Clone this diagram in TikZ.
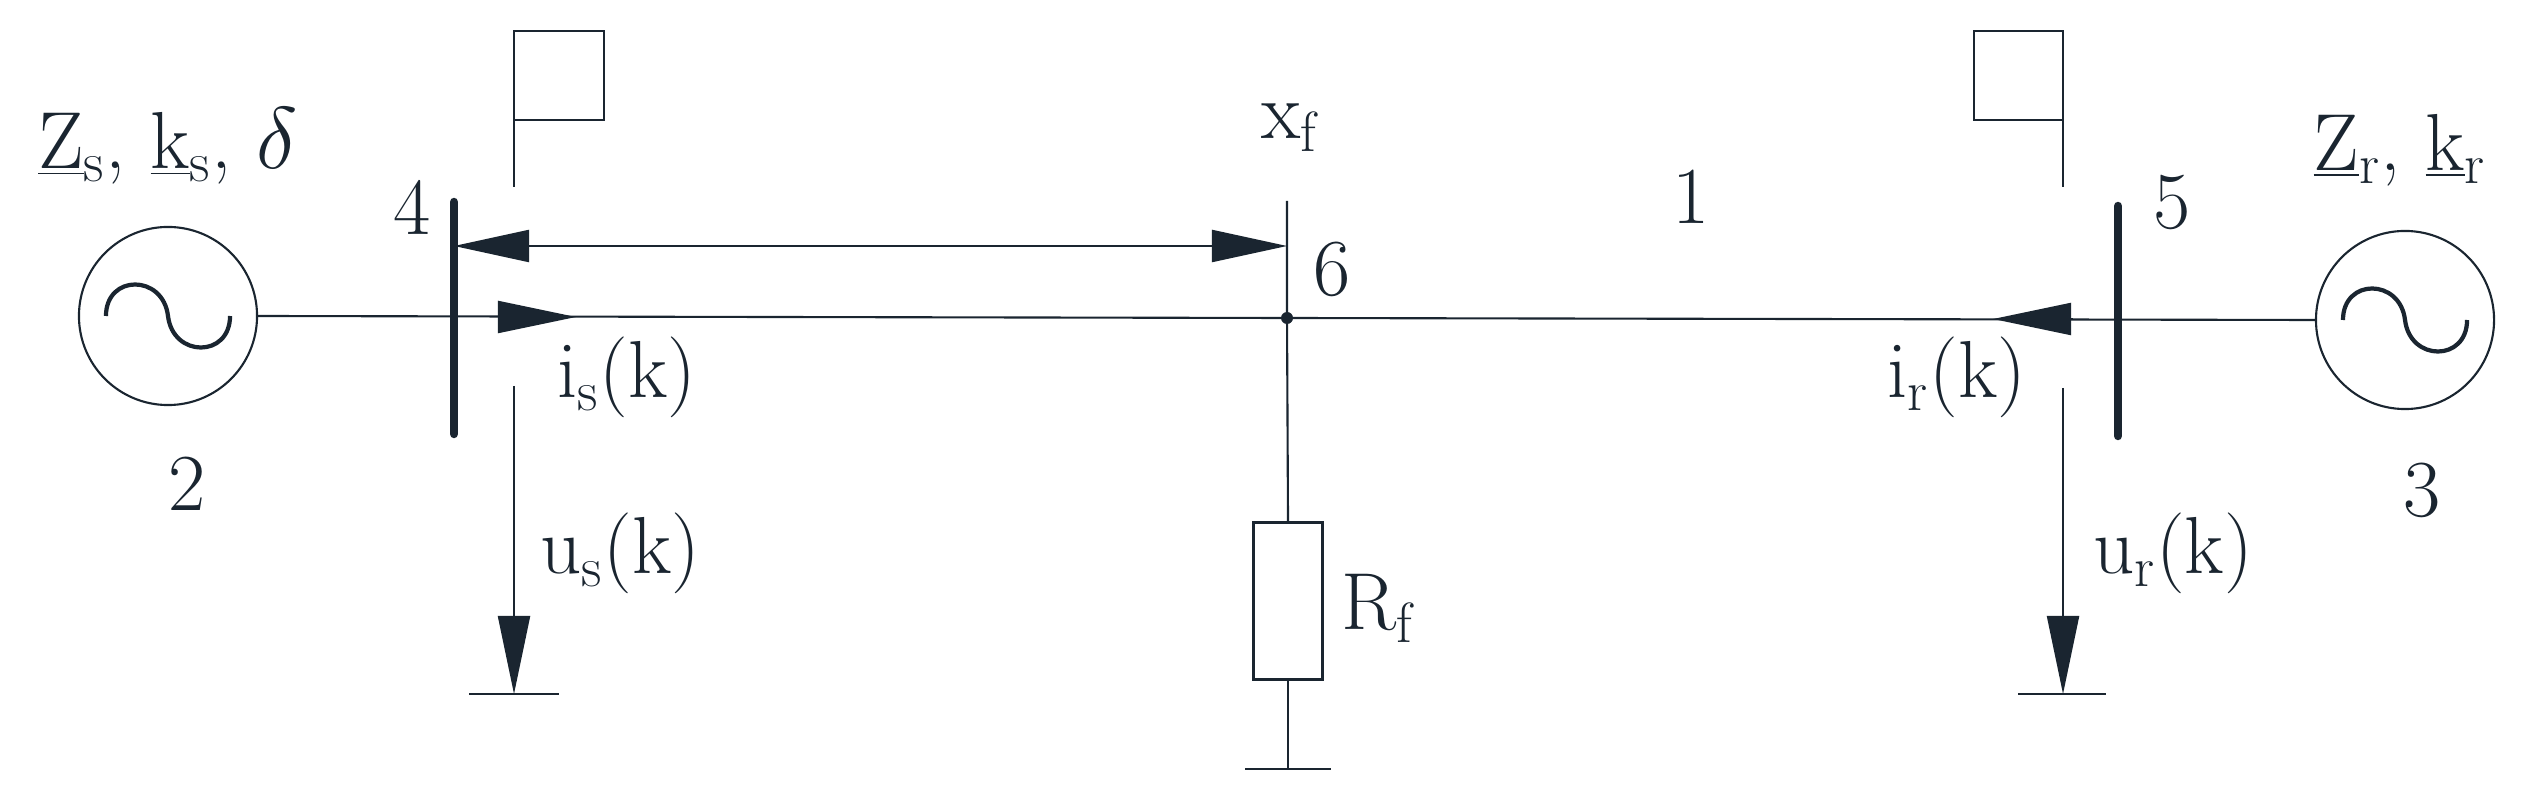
\documentclass[tikz,border=0pt]{standalone}
\usetikzlibrary{arrows.meta}
\definecolor{ink}{HTML}{1A2530}
\begin{document}
\begin{tikzpicture}[x=0.01cm,y=-0.01cm,
  line width=0.6pt, draw=ink, text=ink,
  lbl/.style={inner sep=0pt, font=\fontsize{23}{27}\selectfont},
  bigtip/.style={-{Triangle[length=0.78cm,width=0.32cm]}},
  bus/.style={line width=2.4pt, line cap=round},
  gen/.style={circle, draw, minimum size=1.78cm, inner sep=0pt}]
\useasboundingbox (0,0) rectangle (2531,810);
% generators
\node[gen] (g2) at (168,316) {};
\node[gen] (g3) at (2405,320) {};
\foreach \g in {g2,g3}{
  \draw[line width=1.2pt] ([xshift=-0.62cm]\g.center) .. controls ([xshift=-0.62cm,yshift=0.42cm]\g.center) and ([xshift=-0.05cm,yshift=0.42cm]\g.center) .. (\g.center)
     .. controls ([xshift=0.05cm,yshift=-0.42cm]\g.center) and ([xshift=0.62cm,yshift=-0.42cm]\g.center) .. ([xshift=0.62cm]\g.center);
}
% coordinates
\coordinate (j) at (1287,318);
\coordinate (b4t) at (454,202); \coordinate (b4b) at (454,434);
\coordinate (b5t) at (2118,206); \coordinate (b5b) at (2118,436);
% main line
\draw (g2.east) -- (j) -- (g3.west);
\fill[ink] (j) circle (6);
% buses
\draw[bus] (b4t) -- (b4b);
\draw[bus] (b5t) -- (b5b);
% double arrow
\coordinate (da1) at (454,246); \coordinate (da2) at (1287,246);
\draw[{Triangle[length=0.75cm,width=0.32cm]}-{Triangle[length=0.75cm,width=0.32cm]}] (da1) -- (da2);
% current arrows
\coordinate (is1) at (498,317); \coordinate (is2) at (576,317);
\draw[bigtip] (is1) -- (is2);
\coordinate (ir1) at (2073,319); \coordinate (ir2) at (1993,319);
\draw[bigtip] (ir1) -- (ir2);
% flags
\coordinate (f4a) at (514,187); \coordinate (f4b) at (514,31);
\draw (f4a) -- (f4b) -- (604,31) -- (604,120) -- (514,120);
\coordinate (f5a) at (2063,187); \coordinate (f5b) at (2063,31);
\draw (f5a) -- (f5b) -- (1974,31) -- (1974,120) -- (2063,120);
% voltage arrows and grounds
\coordinate (us1) at (514,386); \coordinate (us2) at (514,694);
\draw[bigtip] (us1) -- (us2);
\draw (469,694) -- (559,694);
\coordinate (ur1) at (2063,388); \coordinate (ur2) at (2063,694);
\draw[bigtip] (ur1) -- (ur2);
\draw (2018,694) -- (2106,694);
% fault branch
\coordinate (xf) at (1287,201);
\node[draw, minimum width=0.69cm, minimum height=1.57cm, inner sep=0pt] (rf) at (1288,601) {};
\coordinate (gf) at (1288,769);
\draw (xf) -- (j) -- (rf.north);
\draw (rf.south) -- (gf);
\draw (1245,769) -- (1331,769);
% labels
\node[lbl] (l2) at (187,484) {2};
\node[lbl] (l3) at (2422,490) {3};
\node[lbl] (l4) at (412,207) {4};
\node[lbl] (l5) at (2172,202) {5};
\node[lbl] (l6) at (1332,269) {6};
\node[lbl] (l1) at (1691,197) {1};
\node[lbl] (lxf) at (1290,128) {x\textsubscript{f}};
\node[lbl] (lrf) at (1378,608) {R\textsubscript{f}};
\node[lbl] (lis) at (627,377) {i\textsubscript{s}(k)};
\node[lbl] (lir) at (1957,377) {i\textsubscript{r}(k)};
\node[lbl] (lus) at (620,553) {u\textsubscript{s}(k)};
\node[lbl] (lur) at (2173,553) {u\textsubscript{r}(k)};
\node[lbl] (lzs) at (168,146) {\underline{Z}\textsubscript{s}, \underline{k}\textsubscript{s}, $\delta$};
\node[lbl] (lzr) at (2400,150) {\underline{Z}\textsubscript{r}, \underline{k}\textsubscript{r}};
\end{tikzpicture}
\end{document}
